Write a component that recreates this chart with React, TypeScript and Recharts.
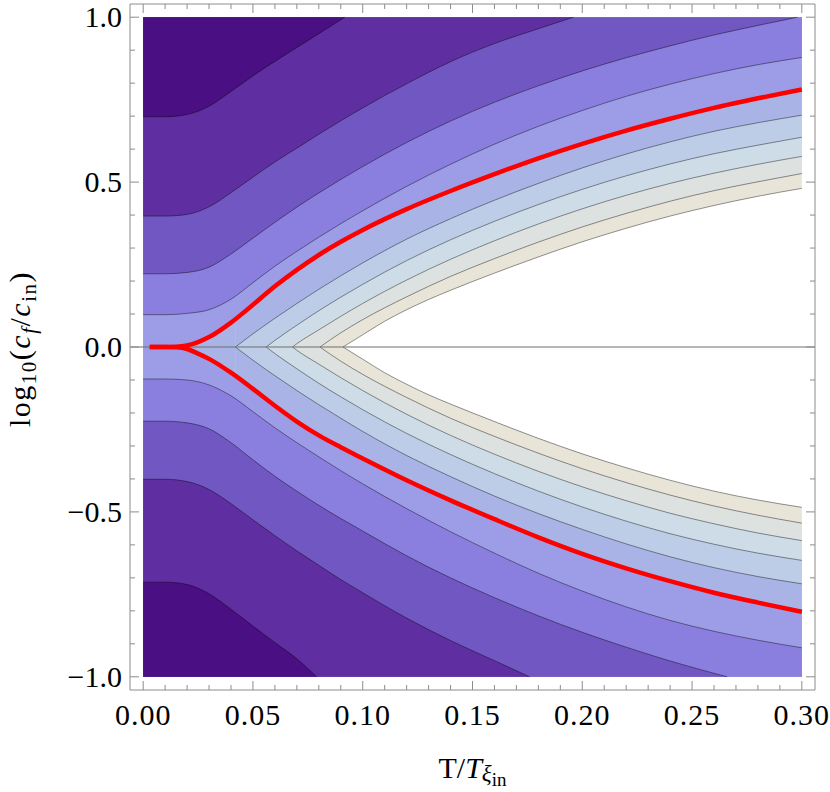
import React from 'react';
import { ComposedChart, Area, Line, XAxis, YAxis, ReferenceLine, Label } from 'recharts';

type Pt = [number, number];

// contour lines as [T/Tξin, log10(cf/cin)]
// upper half, outermost (darkest) first
const up1: Pt[] = [[0, 0.698], [0.01, 0.698], [0.02, 0.705], [0.03, 0.73], [0.04, 0.775], [0.05, 0.822], [0.06, 0.866], [0.07, 0.908], [0.08, 0.95], [0.09, 0.992], [0.0918, 1.0]];
const up2: Pt[] = [[0, 0.397], [0.01, 0.397], [0.02, 0.402], [0.03, 0.425], [0.04, 0.468], [0.05, 0.515], [0.06, 0.561], [0.07, 0.603], [0.08, 0.645], [0.09, 0.686], [0.1, 0.725], [0.12, 0.798], [0.14, 0.865], [0.16, 0.92], [0.18, 0.965], [0.196, 1.0]];
const up3: Pt[] = [[0, 0.222], [0.01, 0.222], [0.02, 0.226], [0.03, 0.242], [0.04, 0.282], [0.05, 0.33], [0.06, 0.378], [0.07, 0.424], [0.08, 0.467], [0.09, 0.508], [0.1, 0.547], [0.12, 0.62], [0.14, 0.685], [0.16, 0.742], [0.18, 0.792], [0.2, 0.837], [0.22, 0.877], [0.24, 0.913], [0.26, 0.946], [0.28, 0.975], [0.298, 1.0]];
const up4: Pt[] = [[0, 0.098], [0.01, 0.098], [0.02, 0.102], [0.03, 0.113], [0.04, 0.145], [0.05, 0.195], [0.06, 0.245], [0.07, 0.29], [0.08, 0.333], [0.09, 0.374], [0.1, 0.413], [0.12, 0.487], [0.14, 0.554], [0.16, 0.615], [0.18, 0.669], [0.2, 0.717], [0.22, 0.76], [0.24, 0.797], [0.26, 0.829], [0.28, 0.856], [0.3, 0.878]];
const redUp: Pt[] = [[0.003, 0], [0.01, 0], [0.015, 0.001], [0.02, 0.005], [0.025, 0.015], [0.03, 0.03], [0.04, 0.074], [0.05, 0.128], [0.06, 0.184], [0.07, 0.234], [0.08, 0.279], [0.09, 0.319], [0.1, 0.355], [0.12, 0.418], [0.14, 0.473], [0.16, 0.524], [0.18, 0.572], [0.2, 0.616], [0.22, 0.656], [0.24, 0.692], [0.26, 0.725], [0.28, 0.754], [0.3, 0.781]];
const up5: Pt[] = [[0, 0], [0.042, 0], [0.05, 0.04], [0.06, 0.087], [0.07, 0.132], [0.08, 0.175], [0.09, 0.216], [0.1, 0.255], [0.12, 0.327], [0.14, 0.389], [0.16, 0.445], [0.18, 0.496], [0.2, 0.543], [0.22, 0.585], [0.24, 0.622], [0.26, 0.654], [0.28, 0.68], [0.3, 0.703]];
const up6: Pt[] = [[0, 0], [0.056, 0], [0.06, 0.02], [0.07, 0.066], [0.08, 0.11], [0.09, 0.151], [0.1, 0.19], [0.12, 0.262], [0.14, 0.325], [0.16, 0.381], [0.18, 0.432], [0.2, 0.478], [0.22, 0.519], [0.24, 0.555], [0.26, 0.586], [0.28, 0.612], [0.3, 0.636]];
const up7: Pt[] = [[0, 0], [0.068, 0], [0.07, 0.01], [0.08, 0.052], [0.09, 0.093], [0.1, 0.132], [0.12, 0.203], [0.14, 0.266], [0.16, 0.322], [0.18, 0.373], [0.2, 0.419], [0.22, 0.46], [0.24, 0.496], [0.26, 0.527], [0.28, 0.554], [0.3, 0.578]];
const up8: Pt[] = [[0, 0], [0.0805, 0], [0.09, 0.043], [0.1, 0.083], [0.12, 0.152], [0.14, 0.214], [0.16, 0.268], [0.18, 0.318], [0.2, 0.364], [0.22, 0.405], [0.24, 0.442], [0.26, 0.474], [0.28, 0.501], [0.3, 0.526]];
const edgeUp: Pt[] = [[0, 0], [0.091, 0], [0.1, 0.037], [0.11, 0.078], [0.12, 0.113], [0.13, 0.144], [0.14, 0.172], [0.16, 0.224], [0.18, 0.273], [0.2, 0.319], [0.22, 0.36], [0.24, 0.397], [0.26, 0.429], [0.28, 0.457], [0.3, 0.481]];

// lower half
const dn1: Pt[] = [[0, -0.713], [0.01, -0.713], [0.02, -0.72], [0.03, -0.748], [0.04, -0.795], [0.05, -0.846], [0.06, -0.896], [0.07, -0.945], [0.079, -1.0]];
const dn2: Pt[] = [[0, -0.401], [0.01, -0.401], [0.02, -0.408], [0.03, -0.432], [0.04, -0.475], [0.05, -0.524], [0.06, -0.572], [0.07, -0.618], [0.08, -0.662], [0.09, -0.705], [0.1, -0.745], [0.12, -0.822], [0.14, -0.89], [0.16, -0.951], [0.176, -1.0]];
const dn3: Pt[] = [[0, -0.225], [0.01, -0.225], [0.02, -0.23], [0.03, -0.248], [0.04, -0.29], [0.05, -0.342], [0.06, -0.392], [0.07, -0.437], [0.08, -0.48], [0.09, -0.52], [0.1, -0.558], [0.12, -0.633], [0.14, -0.7], [0.16, -0.76], [0.18, -0.815], [0.2, -0.865], [0.22, -0.91], [0.24, -0.952], [0.266, -1.0]];
const dn4: Pt[] = [[0, -0.097], [0.01, -0.097], [0.02, -0.1], [0.03, -0.115], [0.04, -0.148], [0.05, -0.196], [0.06, -0.245], [0.07, -0.29], [0.08, -0.333], [0.09, -0.375], [0.1, -0.415], [0.12, -0.49], [0.14, -0.56], [0.16, -0.625], [0.18, -0.686], [0.2, -0.74], [0.22, -0.788], [0.24, -0.829], [0.26, -0.862], [0.28, -0.889], [0.3, -0.912]];
const redDown: Pt[] = [[0.003, 0], [0.01, 0], [0.015, -0.001], [0.02, -0.006], [0.025, -0.02], [0.03, -0.036], [0.04, -0.078], [0.05, -0.127], [0.06, -0.178], [0.07, -0.226], [0.08, -0.268], [0.09, -0.304], [0.1, -0.338], [0.12, -0.404], [0.14, -0.465], [0.16, -0.522], [0.18, -0.577], [0.2, -0.627], [0.22, -0.671], [0.24, -0.71], [0.26, -0.745], [0.28, -0.775], [0.3, -0.803]];
const dn5: Pt[] = [[0, 0], [0.042, 0], [0.05, -0.04], [0.06, -0.087], [0.07, -0.132], [0.08, -0.175], [0.09, -0.216], [0.1, -0.256], [0.12, -0.329], [0.14, -0.393], [0.16, -0.452], [0.18, -0.505], [0.2, -0.553], [0.22, -0.597], [0.24, -0.636], [0.26, -0.669], [0.28, -0.696], [0.3, -0.718]];
const dn6: Pt[] = [[0, 0], [0.056, 0], [0.06, -0.02], [0.07, -0.066], [0.08, -0.11], [0.09, -0.151], [0.1, -0.19], [0.12, -0.262], [0.14, -0.326], [0.16, -0.384], [0.18, -0.437], [0.2, -0.485], [0.22, -0.528], [0.24, -0.566], [0.26, -0.598], [0.28, -0.625], [0.3, -0.647]];
const dn7: Pt[] = [[0, 0], [0.068, 0], [0.07, -0.01], [0.08, -0.052], [0.09, -0.093], [0.1, -0.132], [0.12, -0.204], [0.14, -0.268], [0.16, -0.325], [0.18, -0.377], [0.2, -0.424], [0.22, -0.466], [0.24, -0.504], [0.26, -0.536], [0.28, -0.564], [0.3, -0.587]];
const dn8: Pt[] = [[0, 0], [0.0805, 0], [0.09, -0.043], [0.1, -0.083], [0.12, -0.153], [0.14, -0.216], [0.16, -0.271], [0.18, -0.322], [0.2, -0.369], [0.22, -0.411], [0.24, -0.449], [0.26, -0.482], [0.28, -0.51], [0.3, -0.534]];
const edgeDown: Pt[] = [[0, 0], [0.091, 0], [0.1, -0.037], [0.11, -0.078], [0.12, -0.113], [0.13, -0.145], [0.14, -0.173], [0.16, -0.226], [0.18, -0.277], [0.2, -0.324], [0.22, -0.366], [0.24, -0.404], [0.26, -0.437], [0.28, -0.464], [0.3, -0.486]];

const xTicks = [0, 0.01, 0.02, 0.03, 0.04, 0.05, 0.06, 0.07, 0.08, 0.09, 0.1, 0.11, 0.12, 0.13, 0.14, 0.15, 0.16, 0.17, 0.18, 0.19, 0.2, 0.21, 0.22, 0.23, 0.24, 0.25, 0.26, 0.27, 0.28, 0.29, 0.3];
const xTickLabels = ['0.00', '', '', '', '', '0.05', '', '', '', '', '0.10', '', '', '', '', '0.15', '', '', '', '', '0.20', '', '', '', '', '0.25', '', '', '', '', '0.30'];
const yTicks = [-1, -0.9, -0.8, -0.7, -0.6, -0.5, -0.4, -0.3, -0.2, -0.1, 0, 0.1, 0.2, 0.3, 0.4, 0.5, 0.6, 0.7, 0.8, 0.9, 1];
const yTickLabels = ['\u22121.0', '', '', '', '', '\u22120.5', '', '', '', '', '0.0', '', '', '', '', '0.5', '', '', '', '', '1.0'];

const FRAME = '#8c8c8c';
const SERIF = "'Liberation Serif', 'Times New Roman', serif";

// bands are painted from the axis outwards; each fill runs from its curve to the plot edge
const upperBands = [
  { key: 'edgeUp', pts: edgeUp, fill: '#e8e4d8' },
  { key: 'up8', pts: up8, fill: '#dde1df' },
  { key: 'up7', pts: up7, fill: '#cddce7' },
  { key: 'up6', pts: up6, fill: '#bdcde8' },
  { key: 'up5', pts: up5, fill: '#aab3e6' },
  { key: 'redUp', pts: redUp, fill: '#9c9de6', red: true },
  { key: 'up4', pts: up4, fill: '#8a7fdf' },
  { key: 'up3', pts: up3, fill: '#7157c1' },
  { key: 'up2', pts: up2, fill: '#5f2fa2' },
  { key: 'up1', pts: up1, fill: '#4a0f82' },
];
const lowerBands = [
  { key: 'edgeDown', pts: edgeDown, fill: '#e8e4d8' },
  { key: 'dn8', pts: dn8, fill: '#dde1df' },
  { key: 'dn7', pts: dn7, fill: '#cddce7' },
  { key: 'dn6', pts: dn6, fill: '#bdcde8' },
  { key: 'dn5', pts: dn5, fill: '#aab3e6' },
  { key: 'redDown', pts: redDown, fill: '#9c9de6', red: true },
  { key: 'dn4', pts: dn4, fill: '#8a7fdf' },
  { key: 'dn3', pts: dn3, fill: '#7157c1' },
  { key: 'dn2', pts: dn2, fill: '#5f2fa2' },
  { key: 'dn1', pts: dn1, fill: '#4a0f82' },
];

const rowMap = new Map<string, Record<string, number>>();
function put(key: string, pts: Pt[]) {
  pts.forEach(([t, v]) => {
    const id = t.toFixed(4);
    const row = rowMap.get(id) ?? { t };
    row[key] = v;
    rowMap.set(id, row);
  });
}

type Part = { key: string; fill: string; base: number; kind: 'flat' | 'rise' | 'red' };
const parts: Part[] = [];
const grayLines: string[] = [];
const redLines: string[] = [];

function prepare(bands: typeof upperBands, base: number) {
  bands.forEach((b) => {
    if (b.red) {
      // the fill reaches the left edge; the red line starts where the curve was computed
      put(b.key + '_fill', [[0, b.pts[0][1]], ...b.pts]);
      put(b.key, b.pts);
      parts.push({ key: b.key + '_fill', fill: b.fill, base, kind: 'red' });
      redLines.push(b.key);
      return;
    }
    // split the segment lying on the axis from the curved part, so the kink stays sharp
    let k = -1;
    b.pts.forEach((p, i) => { if (p[1] === 0) k = i; });
    if (k > 0) {
      put(b.key + '_flat', b.pts.slice(0, k + 1));
      parts.push({ key: b.key + '_flat', fill: b.fill, base, kind: 'flat' });
    }
    put(b.key + '_rise', b.pts.slice(Math.max(k, 0)));
    parts.push({ key: b.key + '_rise', fill: b.fill, base, kind: 'rise' });
    grayLines.push(b.key + '_rise');
  });
}
prepare(upperBands, 1);
prepare(lowerBands, -1);
const rows = Array.from(rowMap.values()).sort((a, b) => a.t - b.t);

const tickText = { fontFamily: SERIF, fontSize: 30, fill: '#000' };

function BottomTick(props: any) {
  const { x, y, payload } = props;
  const label = xTickLabels[xTicks.indexOf(payload.value)];
  return (
    <g>
      <line x1={x} y1={y} x2={x} y2={y - (label ? 9 : 5)} stroke={FRAME} />
      {label ? <text x={x} y={y + 35} textAnchor="middle" {...tickText} letterSpacing={1}>{label}</text> : null}
    </g>
  );
}
function TopTick(props: any) {
  const { x, y, payload } = props;
  const label = xTickLabels[xTicks.indexOf(payload.value)];
  return <line x1={x} y1={y} x2={x} y2={y + (label ? 9 : 5)} stroke={FRAME} />;
}
function LeftTick(props: any) {
  const { x, y, payload } = props;
  const label = yTickLabels[yTicks.indexOf(payload.value)];
  return (
    <g>
      <line x1={x} y1={y} x2={x + (label ? 9 : 5)} y2={y} stroke={FRAME} />
      {label ? <text x={x - 8} y={y + 10} textAnchor="end" {...tickText}>{label}</text> : null}
    </g>
  );
}
function RightTick(props: any) {
  const { x, y, payload } = props;
  const label = yTickLabels[yTicks.indexOf(payload.value)];
  return <line x1={x} y1={y} x2={x - (label ? 9 : 5)} y2={y} stroke={FRAME} />;
}

function XTitle(props: any) {
  const vb = props.viewBox ?? { x: 130, y: 690, width: 685, height: 30 };
  const cx = vb.x + vb.width / 2;
  const cy = vb.y + 88;
  return (
    <text x={cx} y={cy} textAnchor="middle" fontFamily={SERIF} fontSize={30} fill="#000">
      T/<tspan fontStyle="italic">T</tspan>
      <tspan fontStyle="italic" fontSize={23} dy={3}>ξ</tspan>
      <tspan fontSize={19} dy={5}>in</tspan>
    </text>
  );
}

function YTitle(props: any) {
  const vb = props.viewBox ?? { x: 70, y: 4, width: 60, height: 686 };
  const cx = vb.x + vb.width - 100;
  const cy = vb.y + vb.height / 2 + 2;
  return (
    <text x={cx} y={cy} transform={`rotate(-90 ${cx} ${cy})`} textAnchor="middle" fontFamily={SERIF} fontSize={30} fill="#000" letterSpacing={1.5}>
      log<tspan fontSize={21} dy={6}>10</tspan>
      <tspan dy={-6}>(</tspan>
      <tspan fontStyle="italic">c</tspan>
      <tspan fontStyle="italic" fontSize={21} dy={6}>f</tspan>
      <tspan dy={-6}>/</tspan>
      <tspan fontStyle="italic">c</tspan>
      <tspan fontSize={21} dy={6}>in</tspan>
      <tspan dy={-6}>)</tspan>
    </text>
  );
}

export default function App() {
  return (
    <div style={{ position: 'absolute', left: 0, top: 0, background: '#fff' }}>
      <ComposedChart width={830} height={792} data={rows} margin={{ top: 0, right: 0, bottom: 72, left: 70 }}>
        <XAxis
          type="number"
          dataKey="t"
          domain={[-0.006, 0.306]}
          allowDataOverflow
          ticks={xTicks}
          interval={0}
          height={30}
          tickSize={0}
          tickMargin={0}
          tickLine={false}
          axisLine={{ stroke: FRAME }}
          tick={BottomTick}
        >
          <Label content={XTitle} />
        </XAxis>
        <XAxis
          xAxisId="top"
          orientation="top"
          type="number"
          dataKey="t"
          domain={[-0.006, 0.306]}
          allowDataOverflow
          ticks={xTicks}
          interval={0}
          height={4}
          tickSize={0}
          tickMargin={0}
          tickLine={false}
          axisLine={{ stroke: FRAME }}
          tick={TopTick}
        />
        <YAxis
          type="number"
          domain={[-1.04, 1.04]}
          allowDataOverflow
          ticks={yTicks}
          interval={0}
          width={60}
          tickSize={0}
          tickMargin={0}
          tickLine={false}
          axisLine={{ stroke: FRAME }}
          tick={LeftTick}
        >
          <Label content={YTitle} />
        </YAxis>
        <YAxis
          yAxisId="right"
          orientation="right"
          type="number"
          domain={[-1.04, 1.04]}
          allowDataOverflow
          ticks={yTicks}
          interval={0}
          width={15}
          tickSize={0}
          tickMargin={0}
          tickLine={false}
          axisLine={{ stroke: FRAME }}
          tick={RightTick}
        />

        {parts.map((p) => (
          <Area
            key={p.key}
            dataKey={p.key}
            type={p.kind === 'flat' ? 'linear' : 'monotone'}
            baseValue={p.base}
            fill={p.fill}
            fillOpacity={1}
            stroke="none"
            connectNulls
            dot={false}
            activeDot={false}
            isAnimationActive={false}
          />
        ))}

        {grayLines.map((k) => (
          <Line
            key={'l_' + k}
            dataKey={k}
            type="monotone"
            stroke="#000"
            strokeOpacity={0.42}
            strokeWidth={1}
            connectNulls
            dot={false}
            activeDot={false}
            isAnimationActive={false}
          />
        ))}

        <ReferenceLine y={0} stroke="#6f6f6f" strokeWidth={1} />

        {redLines.map((k) => (
          <Line
            key={'r_' + k}
            dataKey={k}
            type="monotone"
            stroke="#ff0000"
            strokeWidth={4.5}
            connectNulls
            dot={false}
            activeDot={false}
            isAnimationActive={false}
          />
        ))}
      </ComposedChart>
    </div>
  );
}
